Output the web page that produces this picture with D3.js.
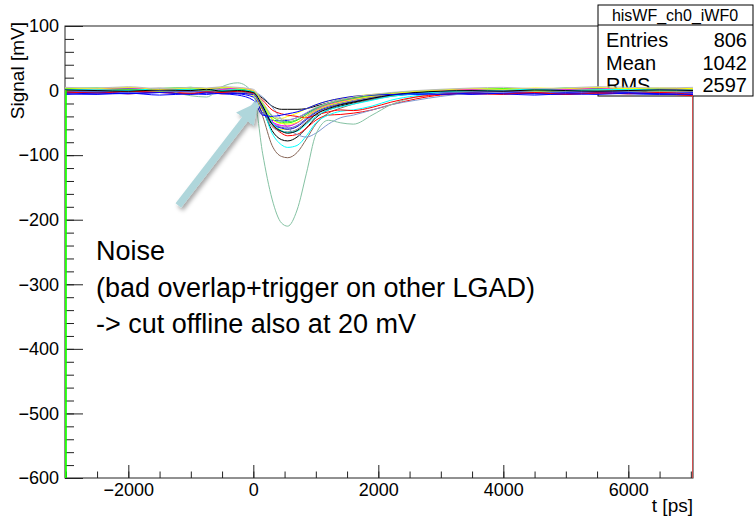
<!DOCTYPE html>
<html>
<head>
<meta charset="utf-8">
<script src="https://cdn.jsdelivr.net/npm/d3@7"></script>
<style>
  body { margin: 0; background: #fff; }
  svg { display: block; font-family: "Liberation Sans", Arial, Helvetica, sans-serif; }
  .trace { fill: none; stroke-width: 1; }
  .axis path, .axis line { stroke: #222; }
  .axis text { font-size: 18px; fill: #000; }
</style>
</head>
<body>
<div class="container"></div>
<script>
// ---------- DATA ----------
// bin times [ps] shared by every waveform
var tGrid = [-3013, -2500, -2000, -1500, -1000, -750, -500, -250, 0, 150, 300, 450, 550, 700, 850,
             1000, 1200, 1400, 1600, 1900, 2200, 2600, 3000, 3500, 4000, 4500, 5000, 5500, 6000, 6500, 7035];

// signal [mV] per waveform, one value per bin above
var wf01 = [2,1,3,0,2,-1,1,0, -3,-12,-24,-29,-29,-29,-28,-24,-19,-14,-11,-7,-4,-2,-1,0,1,-1,0,2,1,0,1];
var wf02 = [-2,-3,0,-1,1,-2,0,-1, -4,-30,-62,-76,-78,-72,-58,-42,-30,-24,-19,-13,-8,-4,-2,-3,-1,-2,0,-1,-2,0,-1];
var wf03 = [-4,-3,-5,-2,-4,-3,-5,-4, -6,-25,-52,-66,-70,-68,-58,-46,-38,-37,-35,-30,-22,-13,-7,-5,-6,-4,-5,-3,-4,-5,-8];
var wf04 = [1,-1,0,2,-1,0,1,-2, -5,-40,-85,-102,-104,-96,-75,-52,-35,-27,-21,-14,-9,-5,-3,-1,0,-2,1,0,-1,1,0];
var wf05 = [3,2,4,1,3,2,0,3, -3,-28,-66,-84,-88,-85,-70,-50,-38,-32,-30,-24,-15,-8,-4,-1,2,1,3,2,0,2,1];
var wf06 = [0,2,-1,1,0,3,1,0, -5,-30,-52,-60,-60,-55,-44,-33,-25,-20,-16,-11,-7,-4,-2,0,1,-1,2,0,1,-1,0];
var wf07 = [-1,0,1,-2,0,-1,-3,-2, -8,-30,-42,-43,-40,-35,-28,-22,-16,-12,-9,-6,-4,-2,-1,-2,0,-1,0,1,-1,0,-1];
var wf08 = [-5,-6,-4,-7,-5,-6,-4,-5, -10,-35,-46,-47,-46,-42,-35,-27,-20,-15,-12,-9,-7,-6,-5,-6,-4,-5,-6,-4,-5,-6,-5];
var wf09 = [-3,-2,-4,-3,-1,-3,-2,-4, -6,-28,-52,-58,-60,-56,-45,-34,-26,-21,-17,-12,-8,-5,-4,-3,-2,-4,-3,-2,-3,-4,-3];
var wf10 = [0,1,-1,2,0,-2,1,0, -2,-10,-25,-45,-58,-68,-72,-66,-52,-42,-38,-30,-22,-15,-9,-4,-2,0,1,-1,0,1,0];
var wf11 = [1,2,0,1,-8,-10,6,12, -5,-98,-168,-205,-210,-185,-128,-68,-46,-50,-52,-38,-22,-10,-4,-2,0,-1,1,0,-1,1,0];
var wf12 = [2,3,1,4,2,3,5,2, -2,-25,-48,-55,-55,-50,-40,-30,-22,-18,-14,-10,-6,-3,-1,1,2,3,1,2,3,2,1];
var wf13 = [-1,0,2,0,-2,1,0,-1, -4,-28,-56,-63,-64,-60,-48,-36,-27,-22,-18,-13,-8,-4,-2,0,-1,0,1,-1,0,-1,0];
var wf14 = [3,4,2,3,5,3,4,2, -1,-22,-44,-50,-50,-46,-37,-28,-20,-16,-12,-8,-4,-1,1,2,3,2,4,3,2,3,3];
var wf15 = [1,3,4,2,1,3,2,4, 0,-24,-48,-54,-55,-50,-40,-30,-22,-17,-13,-9,-5,-2,0,2,1,3,2,4,1,2,3];
var wf16 = [0,-2,1,-1,2,0,-1,1, -3,-20,-40,-47,-48,-45,-37,-28,-20,-15,-12,-8,-5,-2,-1,0,1,0,-1,1,2,0,1];
var wf17 = [-2,-1,-3,0,-2,-1,-3,-2, -5,-26,-50,-57,-58,-54,-43,-32,-24,-19,-15,-10,-6,-4,-3,-2,-1,-3,-2,-1,-2,-3,-2];
var wf18 = [-2,-4,-1,-3,-5,-2,-3,-1, -4,-15,-30,-36,-38,-40,-42,-38,-33,-30,-31,-26,-18,-10,-6,-4,-5,-3,-6,-4,-5,-3,-6];
var wf19 = [2,1,0,3,1,2,0,1, -2,-22,-50,-62,-65,-63,-52,-40,-30,-25,-21,-15,-9,-5,-2,0,1,2,0,1,2,1,0];
var wf20 = [1,0,-1,1,0,2,-1,0, -3,-24,-52,-63,-66,-62,-50,-37,-28,-22,-18,-12,-7,-3,-1,0,-1,1,0,-1,0,1,0];
var wf21 = [4,3,5,2,4,3,5,4, 0,-20,-44,-51,-52,-49,-40,-31,-23,-18,-14,-9,-5,-1,1,3,2,4,3,5,3,4,3];
var wf22 = [-6,-4,-5,-3,-6,-4,-5,-7, -15,-38,-40,-38,-36,-33,-28,-22,-16,-12,-9,-7,-6,-5,-6,-4,-5,-7,-5,-6,-4,-5,-6];
var wf23 = [5,4,6,3,5,4,6,5, 2,-18,-38,-44,-45,-42,-34,-26,-19,-14,-10,-6,-3,0,2,4,5,3,4,6,5,4,5];

// first / last bins that hang down to the bottom of the frame
var edgeTimes = [-3013, -2997, 7035];
var edgeFrom = [0, 0, -8];
var edgeTo = [-600, -600, -600];

var xTicks = [-2000, 0, 2000, 4000, 6000];
var yTicks = [100, 0, -100, -200, -300, -400, -500, -600];
var statsNames = ["Entries", "Mean", "RMS"];
var statsValues = ["806", "1042", "2597"];
var noteLines = ["Noise", "(bad overlap+trigger on other LGAD)", "-> cut offline also at 20 mV"];
var arrowFrom = [-1200, -178];
var arrowTo = [60, -20];

// ROOT palette, in drawing order
var traces = [wf01, wf02, wf03, wf04, wf05, wf06, wf07, wf08, wf09, wf10, wf11, wf12,
              wf13, wf14, wf15, wf16, wf17, wf18, wf19, wf20, wf21, wf22, wf23];
var colours = ["#000000", "#000000", "#ff0000", "#876657", "#00ffff", "#ffff00", "#ffff00", "#0000ff",
               "#0000ff", "#7d99d1", "#85c2a3", "#999999", "#808080", "#00ff00", "#ff00ff", "#59d454",
               "#5954d9", "#ff0000", "#00ffff", "#000000", "#ffff00", "#0000ff", "#bbbbbb"];
var edgeColours = ["#ffff00", "#00ff00", "#e04040"];

// ---------- LAYOUT ----------
var width = 754,
    height = 517,
    frame = { left: 65, right: 693, top: 26, bottom: 478 };

var x = d3.scaleLinear().domain([-3013, 7035]).range([frame.left, frame.right]);
var y = d3.scaleLinear().domain([-600, 100]).range([frame.bottom, frame.top]);

var svg = d3.select(".container").append("svg")
    .attr("width", width)
    .attr("height", height);

var defs = svg.append("defs");
defs.append("clipPath").attr("id", "frameclip")
  .append("rect")
    .attr("x", frame.left).attr("y", frame.top)
    .attr("width", frame.right - frame.left).attr("height", frame.bottom - frame.top);

var shadow = defs.append("filter").attr("id", "shadow")
    .attr("x", "-20%").attr("y", "-20%").attr("width", "140%").attr("height", "140%");
shadow.append("feDropShadow")
    .attr("dx", 2).attr("dy", 3).attr("stdDeviation", 2)
    .attr("flood-color", "#000").attr("flood-opacity", 0.35);

// ---------- AXES ----------
var yMinor = d3.range(-600, 101, 20);
var xMinor = d3.range(-3000, 7001, 500);

svg.append("g").attr("class", "axis")
    .attr("transform", "translate(0," + frame.bottom + ")")
    .call(d3.axisBottom(x).tickValues(xMinor).tickSize(-6.5).tickFormat(""))
    .call(g => g.select(".domain").remove());

svg.append("g").attr("class", "axis")
    .attr("transform", "translate(0," + frame.bottom + ")")
    .call(d3.axisBottom(x).tickValues(xTicks).tickSize(-13).tickPadding(5).tickFormat(d3.format("d")))
    .call(g => g.select(".domain").remove());

svg.append("g").attr("class", "axis")
    .attr("transform", "translate(" + frame.left + ",0)")
    .call(d3.axisLeft(y).tickValues(yMinor).tickSize(-9).tickFormat(""))
    .call(g => g.select(".domain").remove());

svg.append("g").attr("class", "axis")
    .attr("transform", "translate(" + frame.left + ",0)")
    .call(d3.axisLeft(y).tickValues(yTicks).tickSize(-18).tickPadding(6).tickFormat(d3.format("d")))
    .call(g => g.select(".domain").remove());

svg.append("rect")
    .attr("x", frame.left).attr("y", frame.top)
    .attr("width", frame.right - frame.left).attr("height", frame.bottom - frame.top)
    .attr("fill", "none").attr("stroke", "#222");

svg.append("text")
    .attr("transform", "translate(24," + (frame.top - 4) + ") rotate(-90)")
    .attr("text-anchor", "end")
    .attr("font-size", 19)
    .text("Signal [mV]");

svg.append("text")
    .attr("x", frame.right).attr("y", 512)
    .attr("text-anchor", "end")
    .attr("font-size", 19)
    .text("t [ps]");

// ---------- STATS BOX ----------
var box = svg.append("g").attr("transform", "translate(598,5)");
box.append("rect").attr("width", 155).attr("height", 91)
    .attr("fill", "#fff").attr("stroke", "#000");
box.append("line").attr("x1", 0).attr("x2", 155).attr("y1", 20).attr("y2", 20).attr("stroke", "#000");
box.append("text").attr("x", 77).attr("y", 16).attr("text-anchor", "middle")
    .attr("font-size", 16).text("hisWF_ch0_iWF0");
box.selectAll(".sname").data(statsNames).enter().append("text")
    .attr("class", "sname")
    .attr("x", 8).attr("y", (d, i) => 42 + i * 22.5)
    .attr("font-size", 20).text(d => d);
box.selectAll(".sval").data(statsValues).enter().append("text")
    .attr("class", "sval")
    .attr("x", 149).attr("y", (d, i) => 42 + i * 22.5)
    .attr("text-anchor", "end")
    .attr("font-size", 20).text(d => d);

// ---------- WAVEFORMS ----------
var line = d3.line()
    .x((d, i) => x(tGrid[i]))
    .y(d => y(d))
    .curve(d3.curveMonotoneX);

var plot = svg.append("g").attr("clip-path", "url(#frameclip)");

plot.selectAll(".trace")
    .data(traces)
    .enter().append("path")
    .attr("class", "trace")
    .attr("stroke", (d, i) => colours[i])
    .attr("d", line);

plot.selectAll(".edge")
    .data(edgeTimes)
    .enter().append("line")
    .attr("class", "edge")
    .attr("x1", d => x(d)).attr("x2", d => x(d))
    .attr("y1", (d, i) => y(edgeFrom[i])).attr("y2", (d, i) => y(edgeTo[i]))
    .attr("stroke", (d, i) => edgeColours[i])
    .attr("stroke-width", 1.6);

// ---------- ANNOTATION ----------
defs.append("marker")
    .attr("id", "arrowhead")
    .attr("markerUnits", "userSpaceOnUse")
    .attr("viewBox", "0 -11 22 22")
    .attr("refX", 20).attr("refY", 0)
    .attr("markerWidth", 22).attr("markerHeight", 22)
    .attr("orient", "auto")
  .append("path")
    .attr("d", "M0,-11 L22,0 L0,11 Z")
    .attr("fill", "#afd6db");

svg.append("line")
    .attr("x1", x(arrowFrom[0])).attr("y1", y(arrowFrom[1]))
    .attr("x2", x(arrowTo[0])).attr("y2", y(arrowTo[1]))
    .attr("stroke", "#afd6db")
    .attr("stroke-width", 7)
    .attr("marker-end", "url(#arrowhead)")
    .attr("filter", "url(#shadow)");

svg.selectAll(".note")
    .data(noteLines)
    .enter().append("text")
    .attr("class", "note")
    .attr("x", 96)
    .attr("y", (d, i) => 260 + i * 36.5)
    .attr("font-size", 27)
    .text(d => d);
</script>
</body>
</html>
